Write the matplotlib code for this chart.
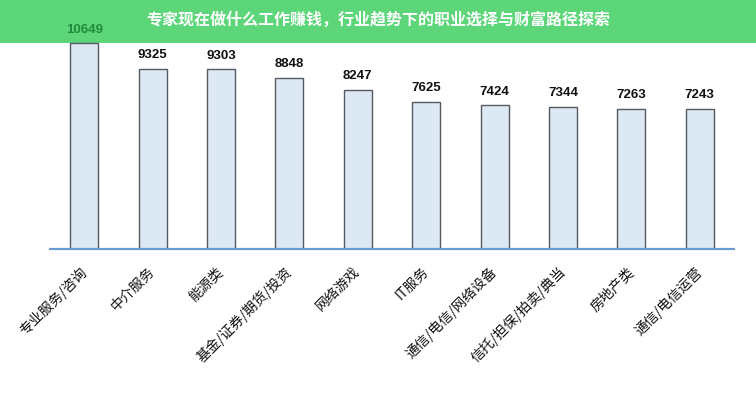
import matplotlib
matplotlib.use("Agg")
import matplotlib.pyplot as plt
from matplotlib.patches import Rectangle

plt.rcParams['font.family'] = ['Noto Sans CJK SC', 'DejaVu Sans']

title = "专家现在做什么工作赚钱，行业趋势下的职业选择与财富路径探索"
categories = ["专业服务/咨询", "中介服务", "能源类", "基金/证券/期货/投资", "网络游戏",
              "IT服务", "通信/电信/网络设备", "信托/担保/拍卖/典当", "房地产类", "通信/电信运营"]
values = [10649, 9325, 9303, 8848, 8247, 7625, 7424, 7344, 7263, 7243]

fig = plt.figure(figsize=(7.56, 4.0), dpi=100)
fig.patch.set_facecolor("white")

# green title band
band = Rectangle((0, 1 - 43 / 400), 1, 43 / 400, transform=fig.transFigure,
                 facecolor="#5dd679", edgecolor="none", zorder=-1)
fig.patches.append(band)
fig.text(0.5, 1 - 20 / 400, title, ha="center", va="center", color="white",
         fontsize=11.5, fontweight="bold")

ax = fig.add_axes([50 / 756, 151.3 / 400, 684 / 756, 248.7 / 400])
ax.set_facecolor("none")
x = range(len(categories))
ax.bar(x, values, width=0.41, color="#dde8f5", edgecolor="#555a60", linewidth=1.0, zorder=2)
ax.set_xlim(-0.5, len(categories) - 0.5)
ax.set_ylim(0, 12890)

for i, v in enumerate(values):
    ax.annotate(str(v), (i, v), xytext=(0, 5.5), textcoords="offset points",
                ha="center", va="bottom", fontsize=9.5, fontweight="bold",
                family=["Liberation Sans", "DejaVu Sans"],
                color="#1e8c3a" if i == 0 else "#111111", annotation_clip=False)

for s in ["top", "left", "right"]:
    ax.spines[s].set_visible(False)
ax.spines["bottom"].set_color("#6a9bd0")
ax.spines["bottom"].set_linewidth(1.6)
ax.set_yticks([])
ax.set_xticks(list(x))
ax.set_xticklabels(categories, rotation=45, ha="right", va="center", rotation_mode="anchor",
                   fontsize=10, color="#111111")
ax.tick_params(axis="x", length=0, pad=15)

fig.savefig("out.png", dpi=100)
